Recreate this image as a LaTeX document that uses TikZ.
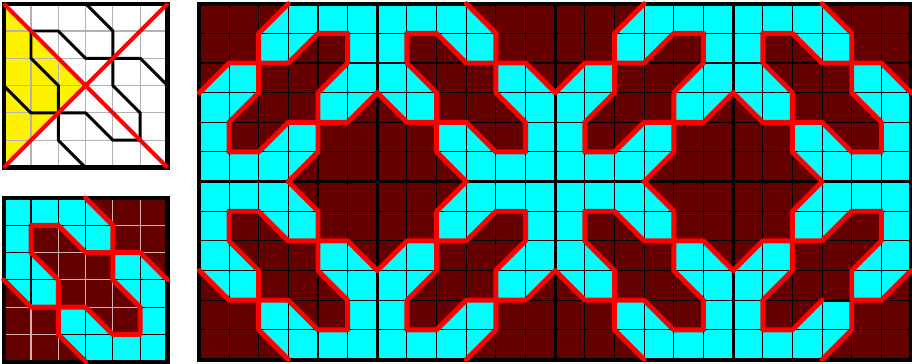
\documentclass[tikz,border=0pt]{standalone}
\usepackage{amsmath}
\usepackage{tikz}

\definecolor{granat}{RGB}{100,0,0}
\definecolor{cian}{RGB}{0,255,255}
\definecolor{rosat}{RGB}{215,175,175}

% Regions clares (cian) i corba de la rajola, en cel.les
\newcommand{\zonaclara}{(0,0) -- (3,0) -- (4,1) -- (4,2) -- (3,2) -- (2,1) -- (1,1) -- (1,2) -- (2,3) -- (2,4) -- (1,4) -- (0,3) -- cycle
  (6,6) -- (3,6) -- (2,5) -- (2,4) -- (3,4) -- (4,5) -- (5,5) -- (5,4) -- (4,3) -- (4,2) -- (5,2) -- (6,3) -- cycle}
\newcommand{\corbaA}{(3,0) -- (4,1) -- (4,3) -- (5,4) -- (5,5) -- (4,5) -- (3,4)}
\newcommand{\corbaB}{(2,4) -- (1,4) -- (0,3) (2,4) -- (2,5) -- (3,6) (2,4) -- (2,3) -- (1,2) -- (1,1) -- (2,1) -- (3,2) -- (5,2) -- (6,3)}

\begin{document}
\begin{tikzpicture}[x=0.02cm, y=-0.02cm,
    fosc/.style={fill=granat},
    clar/.style={fill=cian},
    quadricula/.style={line width=0.6pt},
    traca/.style={red, line width=2.8pt, line cap=round, line join=round},
    vora/.style={line width=2.3pt},
    separa/.style={line width=1.7pt}]
    \useasboundingbox (0,0) rectangle (912,364);

    % Rajola de dalt: triangle groc i diagonals
    \begin{scope}[shift={(3.7,3.7)}, scale=27.3]
        \fill[yellow] (0,0) -- (3,3) -- (0,6) -- cycle;
        \foreach \i in {1,...,5} \draw[gray!60, quadricula] (\i,0) -- (\i,6) (0,\i) -- (6,\i);
        \draw[line width=1.7pt, line join=round] \corbaA -- \corbaB;
        \draw[vora] (0,0) rectangle (6,6);
        \draw[red, line width=2.3pt] (0,0) -- (6,6) (6,0) -- (0,6);
    \end{scope}

    % Rajola de baix, acolorida
    \begin{scope}[shift={(3.7,198)}, scale=27.3]
        \fill[fosc] (0,0) rectangle (6,6);
        \foreach \i in {1,...,5} \draw[rosat, quadricula] (\i,0) -- (\i,6) (0,\i) -- (6,\i);
        \fill[clar] \zonaclara;
        \begin{scope}
            \clip \zonaclara;
            \foreach \i in {1,...,5} \draw[quadricula] (\i,0) -- (\i,6) (0,\i) -- (6,\i);
        \end{scope}
        \draw[vora] (0,0) rectangle (6,6);
        \draw[traca] \corbaA -- \corbaB;
    \end{scope}

    % Mosaic 4x2: origen / escala / gir
    \foreach \ox/\oy/\s in {377.3/3.7/-1, 377.3/3.7/1, 733.1/3.7/-1, 733.1/3.7/1,
                            199.4/181.6/1, 555.2/181.6/-1, 555.2/181.6/1, 911/181.6/-1} {
        \begin{scope}[shift={(\ox,\oy)}, scale=29.65, xscale=\s]
            \fill[fosc] (0,0) rectangle (6,6);
            \fill[clar] \zonaclara;
            \foreach \i in {1,...,5} \draw[quadricula] (\i,0) -- (\i,6) (0,\i) -- (6,\i);
        \end{scope}
    }
    \foreach \x in {377.3,555.2,733.1} \draw[separa] (\x,3.7) -- (\x,359.6);
    \draw[separa] (199.4,181.6) -- (911,181.6);
    \draw[vora] (199.4,3.7) rectangle (911,359.6);
    \foreach \ox/\oy/\s/\g in {377.3/3.7/-1/0, 377.3/3.7/1/0, 733.1/3.7/-1/0, 733.1/3.7/1/0,
                               199.4/181.6/1/0, 555.2/181.6/-1/0, 555.2/181.6/1/0, 911/181.6/-1/1} {
        \begin{scope}[shift={(\ox,\oy)}, scale=29.65, xscale=\s]
            \ifnum\g=1
                \draw[separa] (3,4) -- (2,4); % tram sense pintar
                \draw[traca] \corbaA (2,4) \corbaB;
            \else
                \draw[traca] \corbaA -- \corbaB;
            \fi
        \end{scope}
    }
\end{tikzpicture}
\end{document}
